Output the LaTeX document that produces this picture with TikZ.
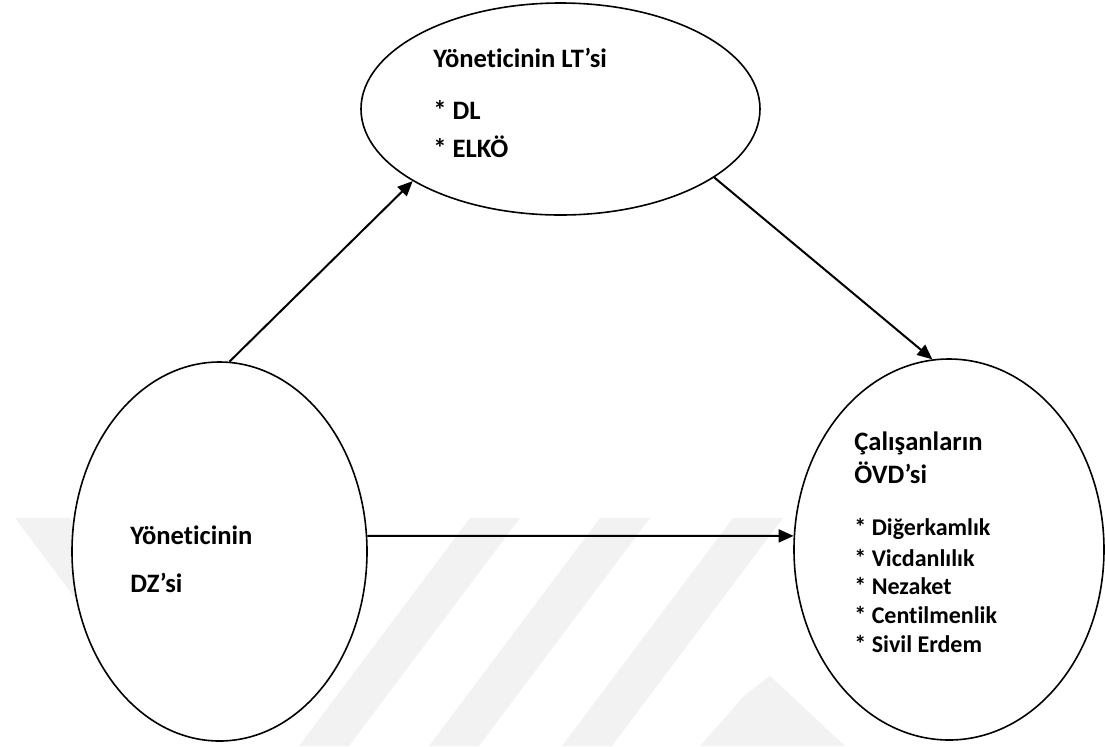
\documentclass[tikz,border=0pt]{standalone}
\usepackage{fontspec}
\setmainfont{Carlito}[Ligatures={NoCommon}]
\usetikzlibrary{shapes.geometric,arrows.meta}
\begin{document}
\begin{tikzpicture}[x=0.5pt,y=-0.5pt,
  oval/.style={ellipse,draw,line width=0.8pt,fill=white,inner sep=0pt},
  conn/.style={line width=1pt,-{Triangle[length=7.5pt,width=6.5pt]}},
  head/.style={anchor=base west,inner sep=0pt,font=\fontsize{13.3}{15}\selectfont\bfseries},
  item/.style={anchor=base west,inner sep=0pt,font=\fontsize{12}{14}\selectfont\bfseries},
  wm/.style={fill=black!5,draw=none}]
\useasboundingbox (0,0) rectangle (1105,746);
% faint background watermark
\fill[wm] (15,518) -- (70,518) -- (190,678) -- (135,678) -- cycle;
\fill[wm] (470,518) -- (520,518) -- (349,746) -- (299,746) -- cycle;
\fill[wm] (600,518) -- (650,518) -- (479,746) -- (429,746) -- cycle;
\fill[wm] (733,518) -- (783,518) -- (612,746) -- (562,746) -- cycle;
\fill[wm] (700,746) -- (745,695) -- (770,676) -- (845,746) -- cycle;
% ellipses
\node[oval,minimum width=199.5pt,minimum height=106pt] (T) at (560.5,109) {};
\node[oval,minimum width=147.5pt,minimum height=189.5pt] (L) at (219.5,551.5) {};
\node[oval,minimum width=155pt,minimum height=190.5pt] (R) at (949,549.5) {};
% texts
\node[head] (t1) at (433,67) {Yöneticinin LT’si};
\node[head] (t2) at (433,119) {* DL};
\node[head] (t3) at (433,157) {* ELKÖ};
\node[head] (l1) at (130,544) {Yöneticinin};
\node[head] (l2) at (130,592) {DZ’si};
\node[head] (r1) at (854,450) {Çalışanların};
\node[head] (r2) at (854,483) {ÖVD’si};
\node[item] (r3) at (854,535) {* Diğerkamlık};
\node[item] (r4) at (854,566) {* Vicdanlılık};
\node[item] (r5) at (854,594) {* Nezaket};
\node[item] (r6) at (854,623) {* Centilmenlik};
\node[item] (r7) at (854,652) {* Sivil Erdem};
% connectors
\draw[conn] (L.87) -- (T.206.5);
\draw[conn] (T.336.25) -- (R.95.8);
\draw[conn] (L.6) -- (R.175);
\end{tikzpicture}
\end{document}
